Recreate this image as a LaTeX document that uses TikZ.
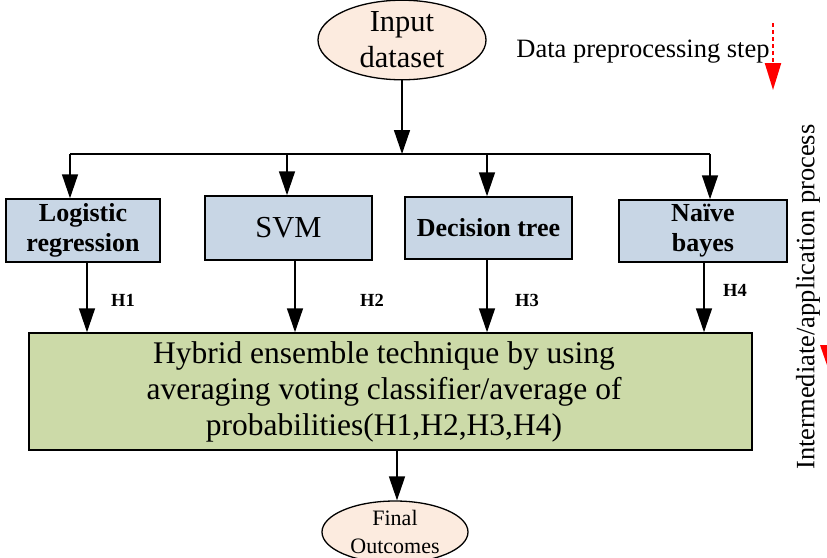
\documentclass[tikz,border=0pt]{standalone}
\usepackage{fontspec}
\setmainfont{Liberation Serif}
\usetikzlibrary{arrows.meta,shapes.geometric}
\definecolor{peach}{RGB}{252,235,223}
\definecolor{algoblue}{RGB}{200,214,229}
\definecolor{hybridgreen}{RGB}{204,218,168}
\begin{document}
\begin{tikzpicture}[x=1pt,y=-1pt,
  conn/.style={line width=1.5pt,-{Triangle[width=16pt,length=24pt]}},
  bus/.style={line width=1.5pt},
  terminal/.style={ellipse,draw,line width=1.3pt,fill=peach,inner sep=0pt,align=center},
  algo/.style={draw,line width=1.5pt,fill=algoblue,inner sep=0pt,align=center},
  boldlbl/.style={font=\fontsize{26}{30}\selectfont\bfseries},
  hlabel/.style={font=\fontsize{18.5}{20}\selectfont\bfseries},
  note/.style={font=\fontsize{26.5}{28}\selectfont},
  redarrow/.style={red,line width=2.2pt,dash pattern=on 4pt off 3pt,-{Triangle[width=16pt,length=27pt]}}]
\useasboundingbox (0,0) rectangle (827,557);

% input and output terminals
\node[terminal,minimum width=168pt,minimum height=74pt,
      font=\fontsize{30.5}{36}\selectfont] (in) at (402,40) {Input\\dataset};
\node[terminal,minimum width=146pt,minimum height=62pt,
      font=\fontsize{22}{28}\selectfont] (fo) at (395,532) {Final\\Outcomes};

% the four classifiers
\node[algo,minimum width=154pt,minimum height=63pt,boldlbl] (lr) at (83,230.5) {Logistic\\regression};
\node[algo,minimum width=167pt,minimum height=64pt,font=\fontsize{30.5}{36}\selectfont] (svm) at (288.5,228) {SVM};
\node[algo,minimum width=167pt,minimum height=62pt,boldlbl] (dt) at (488.5,228) {Decision tree};
\node[algo,minimum width=168pt,minimum height=62pt,boldlbl] (nb) at (703,231) {Naïve\\bayes};

% hybrid ensemble block
\node[draw,line width=1.5pt,fill=hybridgreen,minimum width=723pt,minimum height=117pt] (hy) at (390.5,391.5) {};
\node[align=center,font=\fontsize{31.5}{36}\selectfont] (hytext) at (384,392)
  {Hybrid ensemble technique by using\\averaging voting classifier/average of\\probabilities(H1,H2,H3,H4)};

% distribution bus from the input
\coordinate (busc) at (402,154);
\coordinate (busl) at (70,154);
\coordinate (busr) at (710,154);
\coordinate (d2) at (287,154);
\coordinate (d3) at (487,154);
\draw[conn] (in.south) -- (busc);
\draw[bus] (busl) -- (busr);
\draw[conn] (busl) -- (lr.north -| busl);
\draw[conn] (d2) -- (svm.north -| d2);
\draw[conn] (d3) -- (dt.north -| d3);
\draw[conn] (busr) -- (nb.north -| busr);

% classifier outputs into the ensemble
\coordinate (h1x) at (87,0);
\coordinate (h2x) at (295,0);
\coordinate (h3x) at (487,0);
\coordinate (h4x) at (704,0);
\draw[conn] (lr.south -| h1x) -- (hy.north -| h1x);
\draw[conn] (svm.south -| h2x) -- (hy.north -| h2x);
\draw[conn] (dt.south -| h3x) -- (hy.north -| h3x);
\draw[conn] (nb.south -| h4x) -- (hy.north -| h4x);
\node[hlabel] (h1) at (123,300) {H1};
\node[hlabel] (h2) at (372,300) {H2};
\node[hlabel] (h3) at (527,300) {H3};
\node[hlabel] (h4) at (735,290) {H4};

% final output
\coordinate (outx) at (397,0);
\draw[conn] (hy.south -| outx) -- (fo.north -| outx);

% side annotations
\node[note] (dps) at (643,52) {Data preprocessing step};
\coordinate (dp1) at (773,23);
\coordinate (dp2) at (773,90);
\draw[redarrow] (dp1) -- (dp2);
\node[note,rotate=90] (iap) at (808,297) {Intermediate/application process};
\fill[red] (820,345) -- (836,345) -- (828,368) -- cycle;
\end{tikzpicture}
\end{document}
